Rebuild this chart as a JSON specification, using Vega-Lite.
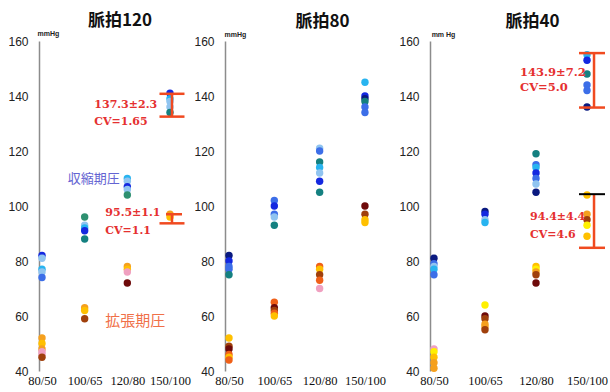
{
  "$schema": "https://vega.github.io/schema/vega-lite/v6.json",
  "padding": {"left": 7, "top": 12, "right": 0, "bottom": 2},
  "bounds": "flush",
  "spacing": 50,
  "background": "white",
  "config": {
    "view": {"stroke": null},
    "title": {"font": "Noto Sans CJK JP", "fontSize": 17, "fontWeight": "bold", "color": "#111", "offset": -1, "anchor": "middle"}
  },
  "datasets": {
    "pts": [
      {"panel": "120", "bp": "80/50", "v": 82, "s": "S2"}, {"panel": "120", "bp": "80/50", "v": 81, "s": "S5"}, {"panel": "120", "bp": "80/50", "v": 77, "s": "S4"}, {"panel": "120", "bp": "80/50", "v": 76, "s": "S5"}, {"panel": "120", "bp": "80/50", "v": 74, "s": "S3"},
      {"panel": "120", "bp": "80/50", "v": 52, "s": "D4"}, {"panel": "120", "bp": "80/50", "v": 50, "s": "D5"}, {"panel": "120", "bp": "80/50", "v": 48, "s": "D4"}, {"panel": "120", "bp": "80/50", "v": 47, "s": "D7"}, {"panel": "120", "bp": "80/50", "v": 46, "s": "D7"}, {"panel": "120", "bp": "80/50", "v": 45, "s": "D2"},
      {"panel": "120", "bp": "100/65", "v": 96, "s": "S7"}, {"panel": "120", "bp": "100/65", "v": 93, "s": "S5"}, {"panel": "120", "bp": "100/65", "v": 92, "s": "S4"}, {"panel": "120", "bp": "100/65", "v": 91, "s": "S2"}, {"panel": "120", "bp": "100/65", "v": 88, "s": "S6"},
      {"panel": "120", "bp": "100/65", "v": 63, "s": "D4"}, {"panel": "120", "bp": "100/65", "v": 62, "s": "D5"}, {"panel": "120", "bp": "100/65", "v": 59, "s": "D2"},
      {"panel": "120", "bp": "120/80", "v": 110, "s": "S4"}, {"panel": "120", "bp": "120/80", "v": 109, "s": "S5"}, {"panel": "120", "bp": "120/80", "v": 107, "s": "S2"}, {"panel": "120", "bp": "120/80", "v": 106, "s": "S5"}, {"panel": "120", "bp": "120/80", "v": 104, "s": "S7"},
      {"panel": "120", "bp": "120/80", "v": 78, "s": "D4"}, {"panel": "120", "bp": "120/80", "v": 77, "s": "D5"}, {"panel": "120", "bp": "120/80", "v": 76, "s": "D7"}, {"panel": "120", "bp": "120/80", "v": 72, "s": "D1"},
      {"panel": "120", "bp": "150/100", "v": 141, "s": "S2"}, {"panel": "120", "bp": "150/100", "v": 139, "s": "S4"}, {"panel": "120", "bp": "150/100", "v": 138, "s": "S5"}, {"panel": "120", "bp": "150/100", "v": 136, "s": "S5"}, {"panel": "120", "bp": "150/100", "v": 134, "s": "S6"},
      {"panel": "120", "bp": "150/100", "v": 97, "s": "D4"}, {"panel": "120", "bp": "150/100", "v": 96, "s": "D5"},

      {"panel": "80", "bp": "80/50", "v": 82, "s": "S1"}, {"panel": "80", "bp": "80/50", "v": 80, "s": "S2"}, {"panel": "80", "bp": "80/50", "v": 78, "s": "S3"}, {"panel": "80", "bp": "80/50", "v": 77, "s": "S3"}, {"panel": "80", "bp": "80/50", "v": 75, "s": "S6"},
      {"panel": "80", "bp": "80/50", "v": 52, "s": "D5"}, {"panel": "80", "bp": "80/50", "v": 49, "s": "D2"}, {"panel": "80", "bp": "80/50", "v": 48, "s": "D1"}, {"panel": "80", "bp": "80/50", "v": 46, "s": "D3"}, {"panel": "80", "bp": "80/50", "v": 45, "s": "D5"}, {"panel": "80", "bp": "80/50", "v": 44, "s": "D3"},
      {"panel": "80", "bp": "100/65", "v": 102, "s": "S3"}, {"panel": "80", "bp": "100/65", "v": 100, "s": "S2"}, {"panel": "80", "bp": "100/65", "v": 97, "s": "S3"}, {"panel": "80", "bp": "100/65", "v": 96, "s": "S5"}, {"panel": "80", "bp": "100/65", "v": 93, "s": "S6"},
      {"panel": "80", "bp": "100/65", "v": 65, "s": "D3"}, {"panel": "80", "bp": "100/65", "v": 63, "s": "D1"}, {"panel": "80", "bp": "100/65", "v": 62, "s": "D2"}, {"panel": "80", "bp": "100/65", "v": 61, "s": "D3"}, {"panel": "80", "bp": "100/65", "v": 60, "s": "D5"},
      {"panel": "80", "bp": "120/80", "v": 121, "s": "S5"}, {"panel": "80", "bp": "120/80", "v": 120, "s": "S3"}, {"panel": "80", "bp": "120/80", "v": 116, "s": "S6"}, {"panel": "80", "bp": "120/80", "v": 114, "s": "S4"}, {"panel": "80", "bp": "120/80", "v": 112, "s": "S5"}, {"panel": "80", "bp": "120/80", "v": 109, "s": "S2"}, {"panel": "80", "bp": "120/80", "v": 105, "s": "S6"},
      {"panel": "80", "bp": "120/80", "v": 78, "s": "D3"}, {"panel": "80", "bp": "120/80", "v": 77, "s": "D5"}, {"panel": "80", "bp": "120/80", "v": 75, "s": "D2"}, {"panel": "80", "bp": "120/80", "v": 73, "s": "D3"}, {"panel": "80", "bp": "120/80", "v": 70, "s": "D7"},
      {"panel": "80", "bp": "150/100", "v": 145, "s": "S4"}, {"panel": "80", "bp": "150/100", "v": 140, "s": "S2"}, {"panel": "80", "bp": "150/100", "v": 139, "s": "S1"}, {"panel": "80", "bp": "150/100", "v": 138, "s": "S6"}, {"panel": "80", "bp": "150/100", "v": 136, "s": "S3"}, {"panel": "80", "bp": "150/100", "v": 134, "s": "S3"},
      {"panel": "80", "bp": "150/100", "v": 100, "s": "D1"}, {"panel": "80", "bp": "150/100", "v": 97, "s": "D2"}, {"panel": "80", "bp": "150/100", "v": 95, "s": "D5"}, {"panel": "80", "bp": "150/100", "v": 94, "s": "D5"},

      {"panel": "40", "bp": "80/50", "v": 81, "s": "S1"}, {"panel": "40", "bp": "80/50", "v": 79, "s": "S3"}, {"panel": "40", "bp": "80/50", "v": 78, "s": "S5"}, {"panel": "40", "bp": "80/50", "v": 77, "s": "S4"}, {"panel": "40", "bp": "80/50", "v": 75, "s": "S3"},
      {"panel": "40", "bp": "80/50", "v": 48, "s": "D7"}, {"panel": "40", "bp": "80/50", "v": 47, "s": "D6"}, {"panel": "40", "bp": "80/50", "v": 45, "s": "D5"}, {"panel": "40", "bp": "80/50", "v": 43, "s": "D4"}, {"panel": "40", "bp": "80/50", "v": 41, "s": "D4"},
      {"panel": "40", "bp": "100/65", "v": 98, "s": "S1"}, {"panel": "40", "bp": "100/65", "v": 97, "s": "S2"}, {"panel": "40", "bp": "100/65", "v": 95, "s": "S5"}, {"panel": "40", "bp": "100/65", "v": 94, "s": "S4"},
      {"panel": "40", "bp": "100/65", "v": 64, "s": "D6"}, {"panel": "40", "bp": "100/65", "v": 60, "s": "D1"}, {"panel": "40", "bp": "100/65", "v": 59, "s": "D2"}, {"panel": "40", "bp": "100/65", "v": 57, "s": "D4"}, {"panel": "40", "bp": "100/65", "v": 56, "s": "D4"}, {"panel": "40", "bp": "100/65", "v": 55, "s": "D2"},
      {"panel": "40", "bp": "120/80", "v": 119, "s": "S6"}, {"panel": "40", "bp": "120/80", "v": 115, "s": "S3"}, {"panel": "40", "bp": "120/80", "v": 114, "s": "S4"}, {"panel": "40", "bp": "120/80", "v": 112, "s": "S2"}, {"panel": "40", "bp": "120/80", "v": 110, "s": "S3"}, {"panel": "40", "bp": "120/80", "v": 108, "s": "S5"}, {"panel": "40", "bp": "120/80", "v": 105, "s": "S1"},
      {"panel": "40", "bp": "120/80", "v": 78, "s": "D5"}, {"panel": "40", "bp": "120/80", "v": 77, "s": "D6"}, {"panel": "40", "bp": "120/80", "v": 76, "s": "D4"}, {"panel": "40", "bp": "120/80", "v": 75, "s": "D2"}, {"panel": "40", "bp": "120/80", "v": 72, "s": "D1"},
      {"panel": "40", "bp": "150/100", "v": 155, "s": "S4"}, {"panel": "40", "bp": "150/100", "v": 153, "s": "S2"}, {"panel": "40", "bp": "150/100", "v": 148, "s": "S6"}, {"panel": "40", "bp": "150/100", "v": 144, "s": "S3"}, {"panel": "40", "bp": "150/100", "v": 142, "s": "S3"}, {"panel": "40", "bp": "150/100", "v": 136, "s": "S1"},
      {"panel": "40", "bp": "150/100", "v": 104, "s": "D5"}, {"panel": "40", "bp": "150/100", "v": 97, "s": "D4"}, {"panel": "40", "bp": "150/100", "v": 95, "s": "D2"}, {"panel": "40", "bp": "150/100", "v": 93, "s": "D6"}, {"panel": "40", "bp": "150/100", "v": 89, "s": "D5"}
    ],
    "bars": [
      {"panel": "120", "bp": "150/100", "v": 132.5, "v2": 140.8},
      {"panel": "120", "bp": "150/100", "v": 93.7, "v2": 97},
      {"panel": "40", "bp": "150/100", "v": 135.8, "v2": 155.6},
      {"panel": "40", "bp": "150/100", "v": 84.8, "v2": 104.3}
    ],
    "caps": [
      {"panel": "120", "bp": "150/100", "v": 140.8, "kind": "wide"},
      {"panel": "120", "bp": "150/100", "v": 132.5, "kind": "wide"},
      {"panel": "120", "bp": "150/100", "v": 93.7, "kind": "wide"},
      {"panel": "120", "bp": "150/100", "v": 97, "kind": "narrow"},
      {"panel": "40", "bp": "150/100", "v": 155.6, "kind": "red"},
      {"panel": "40", "bp": "150/100", "v": 135.8, "kind": "red"},
      {"panel": "40", "bp": "150/100", "v": 84.8, "kind": "red"},
      {"panel": "40", "bp": "150/100", "v": 104.3, "kind": "black"}
    ],
    "notes": [
      {"panel": "120", "grp": "a", "bp": "120/80", "v": 136.8, "label": "137.3±2.3"},
      {"panel": "120", "grp": "a", "bp": "120/80", "v": 130.7, "label": "CV=1.65"},
      {"panel": "120", "grp": "b", "bp": "120/80", "v": 97.3, "label": "95.5±1.1"},
      {"panel": "120", "grp": "b", "bp": "120/80", "v": 90.8, "label": "CV=1.1"},
      {"panel": "40", "grp": "a", "bp": "120/80", "v": 148.4, "label": "143.9±7.2"},
      {"panel": "40", "grp": "a", "bp": "120/80", "v": 143, "label": "CV=5.0"},
      {"panel": "40", "grp": "b", "bp": "120/80", "v": 96, "label": "94.4±4.4"},
      {"panel": "40", "grp": "b", "bp": "120/80", "v": 89.5, "label": "CV=4.6"},
      {"panel": "120", "grp": "sys", "bp": "100/65", "v": 110, "label": "収縮期圧"},
      {"panel": "120", "grp": "dia", "bp": "120/80", "v": 58.2, "label": "拡張期圧"}
    ]
  },
  "hconcat": [
    {
      "width": 136, "height": 330,
      "title": {"text": "脈拍120", "dx": 13},
      "encoding": {
        "x": {"field": "bp", "type": "ordinal", "scale": {"type": "point", "domain": ["80/50", "100/65", "120/80", "150/100"], "padding": 0.094, "align": 0.375},
              "axis": {"domain": false, "ticks": false, "labelAngle": 0, "labelFont": "Liberation Serif", "labelFontSize": 12.5, "labelColor": "#111", "labelPadding": 3, "title": null, "grid": false}},
        "y": {"field": "v", "type": "quantitative", "scale": {"domain": [40, 160], "nice": false, "zero": false},
              "axis": {"values": [40, 60, 80, 100, 120, 140, 160], "domain": true, "domainColor": "#8c8c8c", "domainWidth": 1.5, "domainOpacity": 1, "ticks": false, "labelFont": "Liberation Sans", "labelFontSize": 12, "labelColor": "#222", "labelPadding": 11, "grid": false, "title": "mmHg", "titleAngle": 0, "titleFont": "Liberation Sans", "titleFontSize": 7, "titleFontWeight": "bold", "titleColor": "#222", "titleX": 9, "titleY": -5, "titleAlign": "center", "titleBaseline": "bottom"}}
      },
      "layer": [
        {"data": {"name": "pts"}, "transform": [{"filter": "datum.panel == '120'"}], "mark": {"type": "circle", "size": 55, "opacity": 1},
         "encoding": {"color": {"field": "s", "type": "nominal", "legend": null, "scale": {"domain": ["S1", "S2", "S3", "S4", "S5", "S6", "S7", "D1", "D2", "D3", "D4", "D5", "D6", "D7"], "range": ["#0a1a80", "#1428e0", "#3c6ee8", "#28b4f0", "#90c4f0", "#148080", "#2e9070", "#6e0a0a", "#a0400c", "#f06018", "#f5a01e", "#ffc000", "#fff000", "#f0a0c0"]}}}},
        {"data": {"name": "bars"}, "transform": [{"filter": "datum.panel == '120'"}], "mark": {"type": "rule", "color": "#f04a20", "strokeWidth": 2.5, "xOffset": 2},
         "encoding": {"y2": {"field": "v2"}}},
        {"data": {"name": "caps"}, "transform": [{"filter": "datum.panel == '120' && datum.kind == 'wide'"}], "mark": {"type": "tick", "color": "#f04a20", "thickness": 2.5, "size": 25, "xOffset": 2, "opacity": 1}},
        {"data": {"name": "caps"}, "transform": [{"filter": "datum.panel == '120' && datum.kind == 'narrow'"}], "mark": {"type": "tick", "color": "#f04a20", "thickness": 2.5, "size": 16, "xOffset": 4, "opacity": 1}},
        {"data": {"name": "notes"}, "transform": [{"filter": "datum.panel == '120' && datum.grp == 'a'"}], "mark": {"type": "text", "align": "left", "baseline": "middle", "dx": -33, "font": "DejaVu Serif", "fontWeight": "bold", "fontSize": 11, "color": "#e53030"},
         "encoding": {"text": {"field": "label"}}},
        {"data": {"name": "notes"}, "transform": [{"filter": "datum.panel == '120' && datum.grp == 'b'"}], "mark": {"type": "text", "align": "left", "baseline": "middle", "dx": -22, "font": "DejaVu Serif", "fontWeight": "bold", "fontSize": 11, "color": "#e53030"},
         "encoding": {"text": {"field": "label"}}},
        {"data": {"name": "notes"}, "transform": [{"filter": "datum.panel == '120' && datum.grp == 'sys'"}], "mark": {"type": "text", "align": "left", "baseline": "middle", "dx": -17, "font": "Noto Sans CJK JP", "fontSize": 13, "color": "#6464d2"},
         "encoding": {"text": {"field": "label"}}},
        {"data": {"name": "notes"}, "transform": [{"filter": "datum.panel == '120' && datum.grp == 'dia'"}], "mark": {"type": "text", "align": "left", "baseline": "middle", "dx": -22, "font": "Noto Sans CJK JP", "fontSize": 15, "color": "#f07048"},
         "encoding": {"text": {"field": "label"}}}
      ]
    },
    {
      "width": 155, "height": 330,
      "title": {"text": "脈拍80", "dx": 20},
      "encoding": {
        "x": {"field": "bp", "type": "ordinal", "scale": {"type": "point", "domain": ["80/50", "100/65", "120/80", "150/100"], "padding": 0.21, "align": 0.21},
              "axis": {"domain": false, "ticks": false, "labelAngle": 0, "labelFont": "Liberation Serif", "labelFontSize": 12.5, "labelColor": "#111", "labelPadding": 3, "title": null, "grid": false}},
        "y": {"field": "v", "type": "quantitative", "scale": {"domain": [40, 160], "nice": false, "zero": false},
              "axis": {"values": [40, 60, 80, 100, 120, 140, 160], "domain": true, "domainColor": "#8c8c8c", "domainWidth": 1.5, "domainOpacity": 1, "ticks": false, "labelFont": "Liberation Sans", "labelFontSize": 12, "labelColor": "#222", "labelPadding": 11, "grid": false, "title": "mmHg", "titleAngle": 0, "titleFont": "Liberation Sans", "titleFontSize": 7, "titleFontWeight": "bold", "titleColor": "#222", "titleX": 10, "titleY": -4, "titleAlign": "center", "titleBaseline": "bottom"}}
      },
      "layer": [
        {"data": {"name": "pts"}, "transform": [{"filter": "datum.panel == '80'"}], "mark": {"type": "circle", "size": 55, "opacity": 1},
         "encoding": {"color": {"field": "s", "type": "nominal", "legend": null, "scale": {"domain": ["S1", "S2", "S3", "S4", "S5", "S6", "S7", "D1", "D2", "D3", "D4", "D5", "D6", "D7"], "range": ["#0a1a80", "#1428e0", "#3c6ee8", "#28b4f0", "#90c4f0", "#148080", "#2e9070", "#6e0a0a", "#a0400c", "#f06018", "#f5a01e", "#ffc000", "#fff000", "#f0a0c0"]}}}}
      ]
    },
    {
      "width": 161, "height": 330,
      "title": {"text": "脈拍40", "dx": 22},
      "encoding": {
        "x": {"field": "bp", "type": "ordinal", "scale": {"type": "point", "domain": ["80/50", "100/65", "120/80", "150/100"], "padding": 0.078, "align": 0.5},
              "axis": {"domain": false, "ticks": false, "labelAngle": 0, "labelFont": "Liberation Serif", "labelFontSize": 12.5, "labelColor": "#111", "labelPadding": 3, "title": null, "grid": false}},
        "y": {"field": "v", "type": "quantitative", "scale": {"domain": [40, 160], "nice": false, "zero": false},
              "axis": {"values": [40, 60, 80, 100, 120, 140, 160], "domain": true, "domainColor": "#8c8c8c", "domainWidth": 1.5, "domainOpacity": 1, "ticks": false, "labelFont": "Liberation Sans", "labelFontSize": 12, "labelColor": "#222", "labelPadding": 11, "grid": false, "title": "mm Hg", "titleAngle": 0, "titleFont": "Liberation Sans", "titleFontSize": 7, "titleFontWeight": "bold", "titleColor": "#222", "titleX": 13, "titleY": -4, "titleAlign": "center", "titleBaseline": "bottom"}}
      },
      "layer": [
        {"data": {"name": "pts"}, "transform": [{"filter": "datum.panel == '40'"}], "mark": {"type": "circle", "size": 55, "opacity": 1},
         "encoding": {"color": {"field": "s", "type": "nominal", "legend": null, "scale": {"domain": ["S1", "S2", "S3", "S4", "S5", "S6", "S7", "D1", "D2", "D3", "D4", "D5", "D6", "D7"], "range": ["#0a1a80", "#1428e0", "#3c6ee8", "#28b4f0", "#90c4f0", "#148080", "#2e9070", "#6e0a0a", "#a0400c", "#f06018", "#f5a01e", "#ffc000", "#fff000", "#f0a0c0"]}}}},
        {"data": {"name": "bars"}, "transform": [{"filter": "datum.panel == '40'"}], "mark": {"type": "rule", "color": "#f04a20", "strokeWidth": 2.5, "xOffset": 7},
         "encoding": {"y2": {"field": "v2"}}},
        {"data": {"name": "caps"}, "transform": [{"filter": "datum.panel == '40' && datum.kind == 'red'"}], "mark": {"type": "tick", "color": "#f04a20", "thickness": 2.5, "size": 26, "xOffset": 5, "opacity": 1}},
        {"data": {"name": "caps"}, "transform": [{"filter": "datum.panel == '40' && datum.kind == 'black'"}], "mark": {"type": "tick", "color": "#000000", "thickness": 2, "size": 26, "xOffset": 5, "opacity": 1}},
        {"data": {"name": "notes"}, "transform": [{"filter": "datum.panel == '40' && datum.grp == 'a'"}], "mark": {"type": "text", "align": "left", "baseline": "middle", "dx": -16, "font": "DejaVu Serif", "fontWeight": "bold", "fontSize": 11.5, "color": "#e53030"},
         "encoding": {"text": {"field": "label"}}},
        {"data": {"name": "notes"}, "transform": [{"filter": "datum.panel == '40' && datum.grp == 'b'"}], "mark": {"type": "text", "align": "left", "baseline": "middle", "dx": -6, "font": "DejaVu Serif", "fontWeight": "bold", "fontSize": 11, "color": "#e53030"},
         "encoding": {"text": {"field": "label"}}}
      ]
    }
  ]
}
